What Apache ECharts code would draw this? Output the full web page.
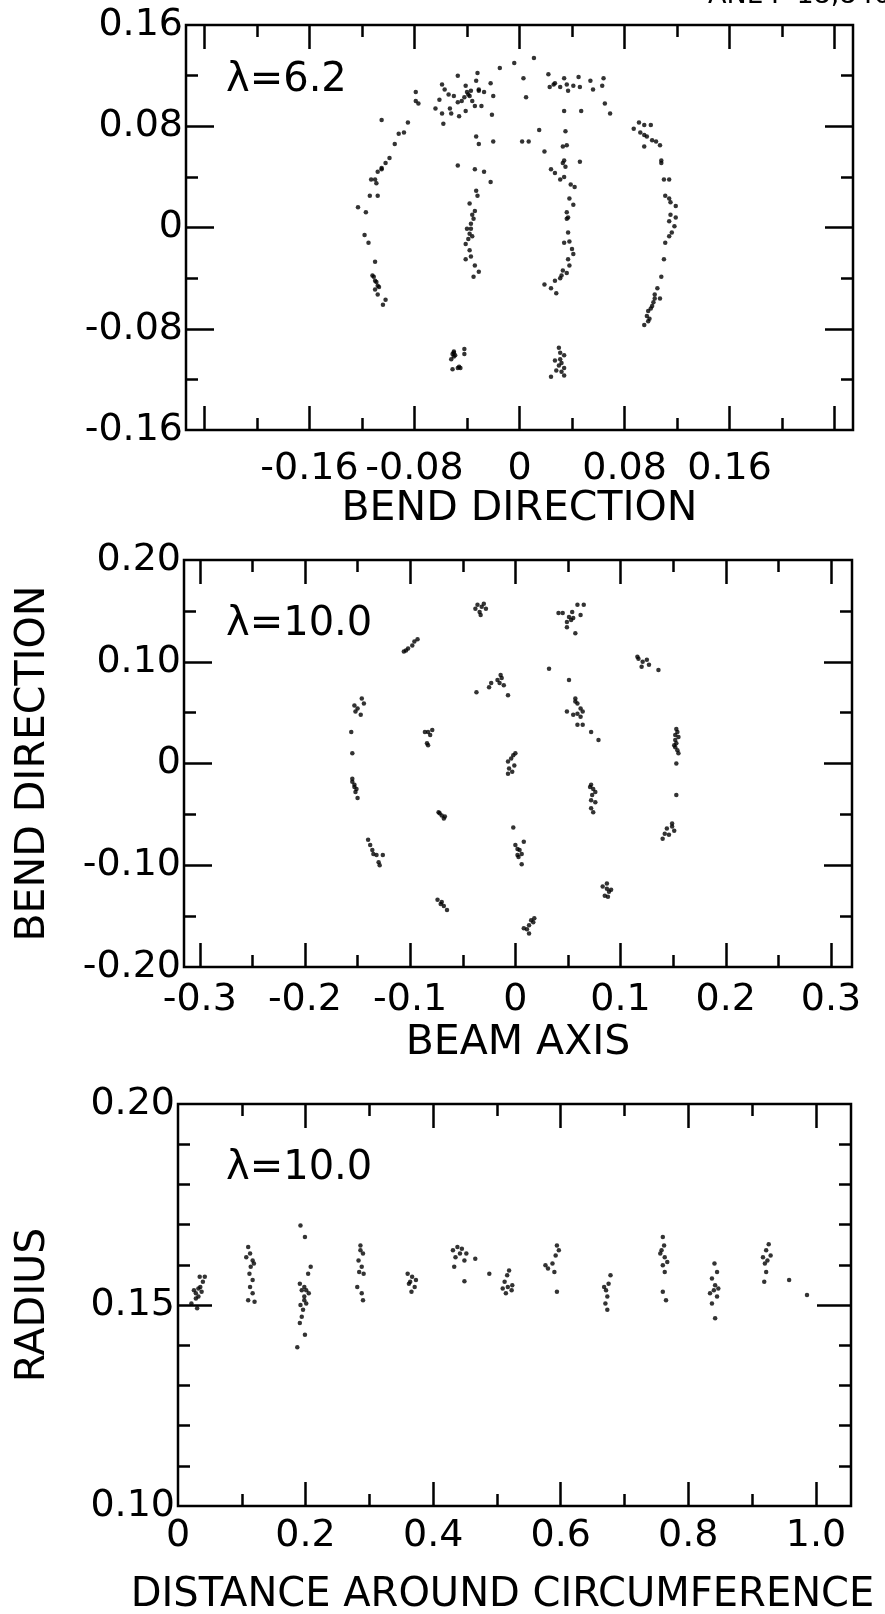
<!DOCTYPE html>
<html>
<head>
<meta charset="utf-8">
<script src="https://cdn.jsdelivr.net/npm/echarts@6/dist/echarts.min.js"></script>
<style>
  html, body { margin: 0; padding: 0; background: #fff; }
  #chart { width: 885px; height: 1614px; }
</style>
</head>
<body>
<div id="chart"></div>
<script>
// ---- λ = 6.2 : positions in the bend plane (bend direction vs bend direction) ----
const p1OuterLeft = [[-0.105,0.085],[-0.088,0.075],[-0.092,0.074],[-0.085,0.083],[-0.095,0.066],[-0.099,0.055],[-0.102,0.051],[-0.105,0.047],[-0.108,0.044],[-0.110,0.038],[-0.109,0.035],[-0.113,0.038],[-0.105,0.046],[-0.114,0.025],[-0.108,0.025],[-0.123,0.016],[-0.117,0.012],[-0.118,-0.006],[-0.115,-0.012],[-0.110,-0.027],[-0.112,-0.038],[-0.111,-0.039],[-0.110,-0.042],[-0.109,-0.043],[-0.108,-0.046],[-0.107,-0.047],[-0.110,-0.049],[-0.108,-0.053],[-0.102,-0.057],[-0.104,-0.061]];
const p1Crown = [[-0.079,0.107],[-0.077,0.098],[-0.079,0.100],[-0.059,0.113],[-0.057,0.109],[-0.047,0.120],[-0.041,0.112],[-0.032,0.122],[-0.033,0.116],[-0.037,0.108],[-0.031,0.109],[-0.027,0.107],[-0.022,0.114],[-0.020,0.104],[-0.061,0.101],[-0.064,0.094],[-0.059,0.090],[-0.058,0.082],[-0.052,0.090],[-0.050,0.104],[-0.047,0.099],[-0.044,0.100],[-0.041,0.092],[-0.039,0.105],[-0.034,0.096],[-0.029,0.096],[-0.021,0.089],[-0.046,0.088],[-0.040,0.107],[-0.038,0.104],[-0.053,0.094],[-0.042,0.103],[-0.036,0.100],[-0.031,0.108],[-0.054,0.105],[-0.015,0.126],[-0.004,0.130],[0.011,0.134],[0.003,0.118],[0.005,0.103],[0.022,0.121],[0.023,0.111],[0.026,0.113],[0.034,0.118],[0.031,0.111],[0.037,0.108],[0.045,0.119],[0.046,0.111],[0.054,0.116],[0.056,0.109],[0.064,0.118],[0.063,0.112],[0.034,0.092],[0.047,0.092],[0.065,0.098],[0.069,0.090],[0.036,0.113],[0.041,0.112],[0.027,0.114]];
const p1Middle = [[0.015,0.077],[0.002,0.068],[0.007,0.068],[-0.033,0.072],[-0.031,0.066],[-0.020,0.068],[0.035,0.076],[-0.047,0.049]];
const p1InnerLeft = [[-0.034,0.046],[-0.027,0.044],[-0.022,0.036],[-0.033,0.029],[-0.032,0.025],[-0.038,0.019],[-0.034,0.013],[-0.036,0.010],[-0.035,0.007],[-0.037,0.003],[-0.040,-0.001],[-0.037,-0.001],[-0.038,-0.005],[-0.036,-0.007],[-0.039,-0.009],[-0.041,-0.013],[-0.038,-0.018],[-0.037,-0.023],[-0.041,-0.025],[-0.034,-0.030],[-0.031,-0.035],[-0.035,-0.039]];
const p1InnerRight = [[0.019,0.060],[0.033,0.064],[0.036,0.065],[0.034,0.053],[0.033,0.051],[0.035,0.048],[0.046,0.052],[0.024,0.046],[0.027,0.043],[0.034,0.040],[0.031,0.038],[0.039,0.034],[0.042,0.032],[0.038,0.023],[0.041,0.018],[0.036,0.012],[0.037,0.008],[0.036,0.007],[0.037,-0.004],[0.038,-0.011],[0.034,-0.012],[0.040,-0.017],[0.041,-0.021],[0.037,-0.025],[0.038,-0.030],[0.033,-0.034],[0.036,-0.036],[0.032,-0.038],[0.031,-0.040],[0.027,-0.042],[0.019,-0.045],[0.024,-0.048],[0.028,-0.052]];
const p1OuterRight = [[0.091,0.083],[0.095,0.081],[0.100,0.081],[0.087,0.078],[0.092,0.075],[0.095,0.073],[0.097,0.072],[0.101,0.069],[0.104,0.068],[0.095,0.064],[0.107,0.065],[0.108,0.053],[0.108,0.051],[0.110,0.038],[0.114,0.038],[0.111,0.025],[0.114,0.023],[0.115,0.020],[0.119,0.017],[0.115,0.010],[0.119,0.008],[0.114,0.005],[0.118,0.001],[0.116,-0.004],[0.114,-0.007],[0.111,-0.012],[0.110,-0.025],[0.108,-0.039],[0.105,-0.048],[0.103,-0.053],[0.107,-0.056],[0.103,-0.056],[0.102,-0.059],[0.101,-0.062],[0.100,-0.064],[0.098,-0.066],[0.097,-0.070],[0.099,-0.072],[0.098,-0.074],[0.095,-0.077]];
const p1LowerLeft = [[-0.050,-0.098],[-0.051,-0.100],[-0.049,-0.101],[-0.052,-0.104],[-0.042,-0.096],[-0.042,-0.100],[-0.047,-0.111],[-0.051,-0.112],[-0.045,-0.111],[-0.050,-0.099],[-0.050,-0.102],[-0.046,-0.110]];
const p1LowerRight = [[0.030,-0.095],[0.031,-0.099],[0.034,-0.101],[0.027,-0.105],[0.032,-0.107],[0.030,-0.109],[0.034,-0.111],[0.028,-0.113],[0.032,-0.114],[0.024,-0.118],[0.034,-0.117],[0.031,-0.104]];

// ---- λ = 10.0 : beam axis vs bend direction ----
const p2OuterRing = [[-0.036,0.156],[-0.032,0.154],[-0.028,0.152],[-0.034,0.149],[-0.033,0.146],[-0.030,0.157],[-0.038,0.152],
  [0.045,0.148],[0.051,0.144],[0.055,0.143],[0.049,0.139],[0.053,0.141],[0.059,0.156],[0.065,0.156],[0.062,0.146],[0.049,0.134],[0.057,0.128],[0.041,0.148],[0.054,0.149],
  [-0.106,0.110],[-0.102,0.113],[-0.098,0.116],[-0.096,0.120],[-0.093,0.122],[-0.104,0.111],
  [0.117,0.103],[0.121,0.100],[0.125,0.102],[0.127,0.097],[0.120,0.095],[0.136,0.092],[0.116,0.105],
  [-0.152,0.051],[-0.150,0.054],[-0.146,0.064],[-0.144,0.059],[-0.147,0.048],[-0.153,0.057],
  [-0.156,0.031],[-0.155,0.010],
  [0.152,0.023],[0.153,0.020],[0.151,0.018],[0.155,0.026],[0.154,0.031],[0.153,0.034],[0.155,0.010],[0.154,0.013],[0.153,0.000],[0.152,0.028],[0.152,0.016],
  [0.153,-0.031],
  [-0.155,-0.018],[-0.153,-0.021],[-0.151,-0.025],[-0.152,-0.028],[-0.150,-0.034],[-0.155,-0.015],[-0.153,-0.023],
  [0.144,-0.064],[0.149,-0.062],[0.151,-0.066],[0.142,-0.069],[0.140,-0.074],[0.146,-0.070],[0.149,-0.059],
  [-0.140,-0.075],[-0.138,-0.080],[-0.136,-0.085],[-0.132,-0.090],[-0.130,-0.097],[-0.135,-0.089],[-0.126,-0.090],[-0.129,-0.100],
  [0.083,-0.121],[0.087,-0.123],[0.089,-0.126],[0.085,-0.130],[0.091,-0.124],[0.087,-0.118],[0.088,-0.131],
  [-0.074,-0.134],[-0.071,-0.138],[-0.068,-0.140],[-0.065,-0.144],[-0.070,-0.136],
  [0.008,-0.162],[0.013,-0.159],[0.017,-0.156],[0.015,-0.154],[0.018,-0.152],[0.013,-0.167],[0.011,-0.163]];
const p2InnerRing = [[-0.017,0.082],[-0.013,0.084],[-0.011,0.077],[-0.015,0.079],[-0.025,0.075],[-0.023,0.079],[-0.007,0.067],[-0.037,0.070],[-0.014,0.087],
  [0.032,0.093],[0.051,0.082],
  [0.057,0.064],[0.059,0.059],[0.062,0.054],[0.059,0.049],[0.055,0.048],[0.064,0.051],[0.062,0.046],[0.049,0.051],[0.059,0.038],[0.064,0.038],[0.072,0.031],[0.079,0.023],[0.057,0.061],
  [-0.083,0.031],[-0.079,0.033],[-0.081,0.028],[-0.086,0.031],[-0.083,0.018],[-0.084,0.020],
  [-0.007,0.002],[-0.004,0.005],[-0.002,0.008],[-0.006,-0.005],[-0.003,-0.008],[-0.007,-0.010],[-0.001,-0.002],[0.000,0.010],
  [0.072,-0.021],[0.074,-0.025],[0.076,-0.028],[0.073,-0.031],[0.072,-0.036],[0.076,-0.038],[0.072,-0.044],[0.074,-0.048],[0.071,-0.023],
  [-0.073,-0.048],[-0.070,-0.051],[-0.067,-0.052],[-0.072,-0.049],[-0.068,-0.054],
  [-0.002,-0.063],
  [0.000,-0.080],[0.002,-0.084],[0.004,-0.085],[0.006,-0.089],[0.002,-0.090],[0.008,-0.077],[0.006,-0.099],[0.003,-0.092]];

// ---- λ = 10.0 : radius vs distance around circumference ----
const p3FirstHalf = [[0.025,0.1537],[0.028,0.1529],[0.032,0.1521],[0.035,0.1545],[0.039,0.1558],[0.042,0.1570],[0.034,0.1570],[0.021,0.1504],[0.030,0.1492],[0.028,0.1516],[0.037,0.1533],[0.032,0.1541],
  [0.110,0.1644],[0.113,0.1628],[0.117,0.1611],[0.114,0.1595],[0.112,0.1578],[0.117,0.1562],[0.113,0.1545],[0.117,0.1529],[0.110,0.1512],[0.120,0.1508],[0.107,0.1619],[0.119,0.1603],
  [0.192,0.1698],[0.199,0.1669],[0.191,0.1553],[0.194,0.1537],[0.198,0.1521],[0.201,0.1504],[0.196,0.1488],[0.205,0.1529],[0.208,0.1595],[0.204,0.1578],[0.194,0.1471],[0.191,0.1455],[0.199,0.1426],[0.187,0.1395],[0.198,0.1545],[0.201,0.1537],[0.198,0.1512],[0.192,0.1500],
  [0.286,0.1648],[0.290,0.1628],[0.283,0.1611],[0.288,0.1595],[0.291,0.1578],[0.284,0.1582],[0.281,0.1545],[0.288,0.1529],[0.290,0.1512],[0.286,0.1636],
  [0.360,0.1578],[0.367,0.1570],[0.364,0.1558],[0.371,0.1545],[0.366,0.1533],[0.362,0.1553],[0.373,0.1562],
  [0.431,0.1636],[0.438,0.1644],[0.445,0.1640],[0.442,0.1628],[0.435,0.1619],[0.449,0.1611],[0.433,0.1595],[0.452,0.1628],[0.449,0.1559],[0.466,0.1615],[0.488,0.1578]];
const p3SecondHalf = [[0.519,0.1586],[0.516,0.1574],[0.512,0.1558],[0.517,0.1545],[0.523,0.1537],[0.514,0.1529],[0.524,0.1549],[0.509,0.1541],
  [0.594,0.1648],[0.597,0.1636],[0.592,0.1623],[0.587,0.1603],[0.580,0.1591],[0.590,0.1582],[0.576,0.1599],[0.594,0.1533],
  [0.678,0.1574],[0.675,0.1553],[0.671,0.1537],[0.673,0.1521],[0.670,0.1504],[0.673,0.1488],[0.668,0.1545],
  [0.760,0.1669],[0.762,0.1648],[0.758,0.1636],[0.763,0.1619],[0.767,0.1607],[0.760,0.1599],[0.763,0.1582],[0.760,0.1533],[0.765,0.1512],[0.756,0.1628],
  [0.841,0.1603],[0.845,0.1582],[0.837,0.1566],[0.842,0.1549],[0.840,0.1537],[0.845,0.1521],[0.837,0.1504],[0.842,0.1467],[0.834,0.1529],[0.847,0.1541],
  [0.926,0.1651],[0.922,0.1636],[0.917,0.1619],[0.924,0.1611],[0.929,0.1623],[0.920,0.1603],[0.922,0.1582],[0.919,0.1558],
  [0.958,0.1562],[0.986,0.1525]];

// ---- tick positions and tick labels ----
const p1XLong = [-0.24, -0.16, -0.08, 0, 0.08, 0.16, 0.24];
const p1XShort = [-0.20, -0.12, -0.04, 0.04, 0.12, 0.20];
const p1XLabels = [-0.16, -0.08, 0, 0.08, 0.16];
const p1YLong = [-0.08, 0, 0.08];
const p1YShort = [-0.12, -0.04, 0.04, 0.12];
const p1YLabels = [-0.16, -0.08, 0, 0.08, 0.16];

const p2XLong = [-0.3, -0.2, -0.1, 0, 0.1, 0.2, 0.3];
const p2XShort = [-0.25, -0.15, -0.05, 0.05, 0.15, 0.25];
const p2XLabels = [-0.3, -0.2, -0.1, 0, 0.1, 0.2, 0.3];
const p2YLong = [-0.1, 0, 0.1];
const p2YShort = [-0.15, -0.05, 0.05, 0.15];
const p2YLabels = [-0.2, -0.1, 0, 0.1, 0.2];

const p3XLong = [0.2, 0.4, 0.6, 0.8, 1.0];
const p3XShort = [0.1, 0.3, 0.5, 0.7, 0.9];
const p3XLabels = [0, 0.2, 0.4, 0.6, 0.8, 1.0];
const p3YLong = [0.15];
const p3YShort = [0.11, 0.12, 0.13, 0.14, 0.16, 0.17, 0.18, 0.19];
const p3YLabels = [0.10, 0.15, 0.20];

const INK = '#000';
const FONT = 'DejaVu Sans';

function fmt(v, digits) {
  return Math.abs(v) < 1e-9 ? '0' : v.toFixed(digits);
}

// One frame side = an axis with long ticks + an overlaid axis with short ticks,
// mirrored on the opposite side; labels and title only on the bottom/left axis.
function axisSet(dim, gridIndex, range, longTicks, shortTicks, longLen, labelVals, digits, labelMargin, title, titleGap, titleStyle) {
  const sides = dim === 'x' ? ['bottom', 'top'] : ['left', 'right'];
  const base = {
    type: 'value', gridIndex: gridIndex, min: range[0], max: range[1],
    axisLine: { show: false, onZero: false },
    splitLine: { show: false },
    silent: true
  };
  const tick = (vals, len) => ({ show: true, inside: true, length: len, customValues: vals, lineStyle: { color: INK, width: 2.5 } });
  const out = [];
  sides.forEach((side, i) => {
    const main = Object.assign({}, base, {
      position: side,
      axisTick: tick(longTicks, longLen),
      axisLabel: { show: false }
    });
    if (i === 0) {
      main.axisLabel = {
        show: true, customValues: labelVals, margin: labelMargin,
        color: INK, fontFamily: FONT, fontSize: 38,
        formatter: v => fmt(v, digits)
      };
      if (title) {
        main.name = title;
        main.nameLocation = 'middle';
        main.nameGap = titleGap;
        if (dim === 'y') main.nameRotate = 90;
        main.nameTextStyle = Object.assign({ color: INK, fontFamily: FONT, fontSize: 41 }, titleStyle || {});
      }
    }
    out.push(main);
    out.push(Object.assign({}, base, { position: side, axisTick: tick(shortTicks, 12), axisLabel: { show: false } }));
  });
  return out;
}

const frame = { show: true, borderColor: INK, borderWidth: 2.5, backgroundColor: 'transparent', outerBoundsMode: 'none', containLabel: false };
const dot = { type: 'scatter', symbol: 'circle', symbolSize: 4.5, itemStyle: { color: INK }, silent: true };

const option = {
  animation: false,
  backgroundColor: '#fff',
  grid: [
    Object.assign({ left: 186, top: 25, width: 667, height: 405 }, frame),
    Object.assign({ left: 184, top: 560, width: 668, height: 407 }, frame),
    Object.assign({ left: 178, top: 1104, width: 673, height: 402 }, frame)
  ],
  xAxis: [].concat(
    axisSet('x', 0, [-0.254, 0.254], p1XLong, p1XShort, 24, p1XLabels, 2, 20, 'BEND DIRECTION', 53),
    axisSet('x', 1, [-0.315, 0.32], p2XLong, p2XShort, 24, p2XLabels, 1, 14, 'BEAM AXIS', 56),
    axisSet('x', 2, [0, 1.055], p3XLong, p3XShort, 24, p3XLabels, 1, 11, 'DISTANCE AROUND CIRCUMFERENCE', 70,
      { fontSize: 40, padding: [0, 24, 0, 0] })
  ),
  yAxis: [].concat(
    axisSet('y', 0, [-0.16, 0.16], p1YLong, p1YShort, 28, p1YLabels, 2, 3, '', 0),
    axisSet('y', 1, [-0.2, 0.2], p2YLong, p2YShort, 28, p2YLabels, 2, 3, 'BEND DIRECTION', 130),
    axisSet('y', 2, [0.10, 0.20], p3YLong, p3YShort, 34, p3YLabels, 2, 3, 'RADIUS', 124)
  ),
  series: [
    Object.assign({}, dot, { xAxisIndex: 0, yAxisIndex: 0, data: [].concat(p1OuterLeft, p1Crown, p1Middle, p1InnerLeft, p1InnerRight, p1OuterRight, p1LowerLeft, p1LowerRight) }),
    Object.assign({}, dot, { xAxisIndex: 4, yAxisIndex: 4, data: [].concat(p2OuterRing, p2InnerRing) }),
    Object.assign({}, dot, { xAxisIndex: 8, yAxisIndex: 8, data: [].concat(p3FirstHalf, p3SecondHalf) })
  ],
  graphic: [
    { type: 'text', left: 226, top: 61, style: { text: 'λ=6.2', fill: INK, font: '40px "DejaVu Sans"' } },
    { type: 'text', left: 226, top: 605, style: { text: 'λ=10.0', fill: INK, font: '40px "DejaVu Sans"' } },
    { type: 'text', left: 226, top: 1149, style: { text: 'λ=10.0', fill: INK, font: '40px "DejaVu Sans"' } },
    { type: 'text', left: 708, top: -18, style: { text: 'ANL-P-18,840', fill: INK, font: '27px "DejaVu Sans"' } }
  ]
};

const chart = echarts.init(document.getElementById('chart'), null, { renderer: 'canvas' });
chart.setOption(option);
</script>
</body>
</html>
